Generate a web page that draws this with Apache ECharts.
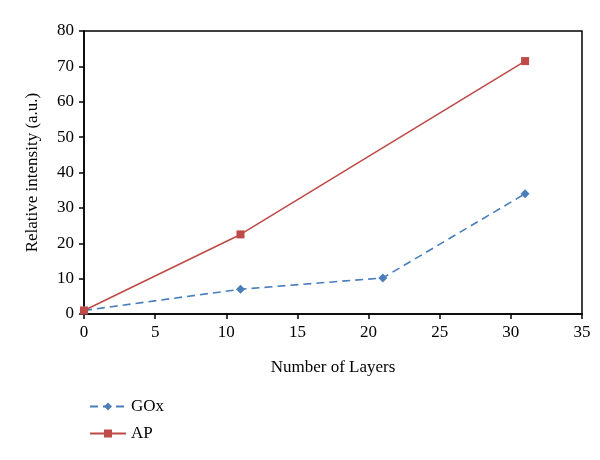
<!DOCTYPE html>
<html>
<head>
<meta charset="utf-8">
<script src="https://cdn.jsdelivr.net/npm/echarts@6/dist/echarts.min.js"></script>
<style>html,body{margin:0;padding:0;background:#fff}#c{width:600px;height:460px}</style>
</head>
<body>
<div id="c"></div>
<script>
var seriesNames = ['GOx', 'AP'];
var goxData = [[0, 1], [11, 7], [21, 10.2], [31, 34]];
var apData = [[0, 1], [11, 22.5], [31, 71.5]];
var xTicks = [0, 5, 10, 15, 20, 25, 30, 35];
var yTicks = [0, 10, 20, 30, 40, 50, 60, 70, 80];

var font = 'Liberation Serif';
var chart = echarts.init(document.getElementById('c'));
chart.setOption({
  animation: false,
  backgroundColor: '#fff',
  textStyle: {fontFamily: font},
  grid: {left: 84, top: 31, right: 18, bottom: 146, show: true, borderColor: '#000', borderWidth: 1.5, backgroundColor: 'transparent'},
  xAxis: {
    type: 'value', min: xTicks[0], max: xTicks[xTicks.length - 1], interval: 5,
    name: 'Number of Layers', nameLocation: 'middle', nameGap: 45,
    nameTextStyle: {fontFamily: font, fontSize: 17, color: '#000'},
    axisLine: {lineStyle: {color: '#000', width: 1.5}},
    axisTick: {show: true, inside: false, length: 5, lineStyle: {color: '#000', width: 1.5}},
    axisLabel: {fontFamily: font, fontSize: 17, color: '#000', margin: 10},
    splitLine: {show: false}
  },
  yAxis: {
    type: 'value', min: yTicks[0], max: yTicks[yTicks.length - 1], interval: 10,
    name: 'Relative intensity (a.u.)', nameLocation: 'middle', nameGap: 43,
    nameTextStyle: {fontFamily: font, fontSize: 17, color: '#000'},
    axisLine: {show: true, lineStyle: {color: '#000', width: 1.5}},
    axisTick: {show: true, inside: false, length: 5, lineStyle: {color: '#000', width: 1.5}},
    axisLabel: {fontFamily: font, fontSize: 17, color: '#000', margin: 10},
    splitLine: {show: false}
  },
  legend: {
    orient: 'vertical', left: 84, top: 393, itemGap: 10, itemWidth: 36, itemHeight: 10,
    data: seriesNames,
    textStyle: {fontFamily: font, fontSize: 17, color: '#000'}
  },
  series: [
    {
      name: seriesNames[0], type: 'line', data: goxData,
      symbol: 'diamond', symbolSize: 9,
      itemStyle: {color: '#4A7EBB'},
      lineStyle: {color: '#4A7EBB', width: 1.6, type: [8, 5]}
    },
    {
      name: seriesNames[1], type: 'line', data: apData,
      symbol: 'rect', symbolSize: 8,
      itemStyle: {color: '#BE4B48'},
      lineStyle: {color: '#BE4B48', width: 1.6}
    }
  ]
});
</script>
</body>
</html>
